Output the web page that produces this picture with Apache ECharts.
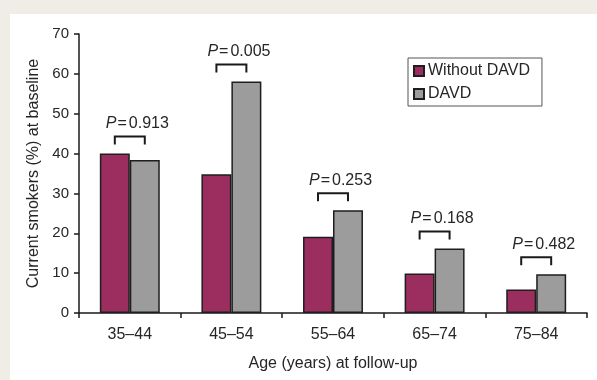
<!DOCTYPE html>
<html>
<head>
<meta charset="utf-8">
<script src="https://cdn.jsdelivr.net/npm/echarts@6/dist/echarts.min.js"></script>
<style>
  html, body { margin: 0; padding: 0; background: #efede5; }
  #chart { width: 597px; height: 380px; }
</style>
</head>
<body>
<div id="chart"></div>
<script>
// Age bands at follow-up
const categories = ['35–44', '45–54', '55–64', '65–74', '75–84'];
// Current smokers (%) at baseline
const withoutDavd = [40.0, 34.8, 19.1, 9.9, 5.9];
const davd = [38.4, 58.1, 25.8, 16.2, 9.7];
// P values comparing the two groups in each band
const pValues = ['0.913', '0.005', '0.253', '0.168', '0.482'];
const yTicks = { min: 0, max: 70, interval: 10 };

const FONT = '"Liberation Sans", Arial, Helvetica, sans-serif';
const TEXT = '#262626';
const CAT_GAP = 0.41; // fraction of each band left empty

const chart = echarts.init(document.getElementById('chart'));

chart.setOption({
  backgroundColor: '#efede5',
  animation: false,
  textStyle: { fontFamily: FONT, color: TEXT },
  graphic: [{
    type: 'rect', z: -10, silent: true,
    shape: { x: 10, y: 14, width: 600, height: 380 },
    style: { fill: '#ffffff' }
  }],
  grid: { left: 79, right: 10, top: 34, bottom: 67, containLabel: false },
  legend: {
    orient: 'vertical',
    left: 408, top: 58,
    width: 132,
    padding: [5, 12, 4, 5],
    itemWidth: 10, itemHeight: 10, itemGap: 7,
    backgroundColor: '#ffffff',
    borderColor: '#555555', borderWidth: 1,
    icon: 'rect',
    textStyle: { fontFamily: FONT, fontSize: 16, color: TEXT, padding: [0, 0, 0, -1] },
    data: ['Without DAVD', 'DAVD']
  },
  xAxis: {
    type: 'category',
    data: categories,
    name: 'Age (years) at follow-up',
    nameLocation: 'middle',
    nameGap: 43,
    nameTextStyle: { fontFamily: FONT, fontSize: 16, color: TEXT },
    axisLine: { lineStyle: { color: '#1a1a1a', width: 1.5 } },
    axisTick: { show: true, length: 5, alignWithLabel: false, lineStyle: { color: '#1a1a1a', width: 1.5 } },
    axisLabel: { fontFamily: FONT, fontSize: 16, color: TEXT, margin: 14 }
  },
  yAxis: {
    type: 'value',
    min: yTicks.min, max: yTicks.max, interval: yTicks.interval,
    name: 'Current smokers (%) at baseline',
    nameLocation: 'middle',
    nameRotate: 90,
    nameGap: 37,
    nameTextStyle: { fontFamily: FONT, fontSize: 16, color: TEXT },
    axisLine: { show: true, lineStyle: { color: '#1a1a1a', width: 1.5 } },
    axisTick: { show: true, length: 5, lineStyle: { color: '#1a1a1a', width: 1.5 } },
    axisLabel: { fontFamily: FONT, fontSize: 15, color: TEXT, margin: 10 },
    splitLine: { show: false }
  },
  series: [
    {
      name: 'Without DAVD',
      type: 'bar',
      data: withoutDavd,
      barGap: '0%',
      barCategoryGap: (CAT_GAP * 100) + '%',
      itemStyle: { color: '#9b2d5f', borderColor: '#1e1e1e', borderWidth: 1.5 }
    },
    {
      name: 'DAVD',
      type: 'bar',
      data: davd,
      barGap: '0%',
      barCategoryGap: (CAT_GAP * 100) + '%',
      itemStyle: { color: '#9c9c9c', borderColor: '#1e1e1e', borderWidth: 1.5 }
    },
    {
      // significance brackets with P-value labels above each pair
      type: 'custom',
      silent: true,
      z: 5,
      data: categories.map((c, i) => [i, Math.max(withoutDavd[i], davd[i])]),
      renderItem: function (params, api) {
        const idx = api.value(0);
        const top = api.coord([idx, api.value(1)]);
        const band = api.size([1, 0])[0];
        const barW = band * (1 - CAT_GAP) / 2;
        const cx = top[0];
        const x1 = cx - barW / 2;
        const x2 = cx + barW / 2;
        const yLeg = top[1] - 9;
        const yBar = yLeg - 8;
        return {
          type: 'group',
          children: [
            {
              type: 'polyline',
              shape: { points: [[x1, yLeg], [x1, yBar], [x2, yBar], [x2, yLeg]] },
              style: { stroke: '#1a1a1a', lineWidth: 2, fill: null }
            },
            {
              type: 'text',
              x: x1 - 9,
              y: yBar - 13,
              style: {
                text: '{i|P}{e|=}{n|' + pValues[idx] + '}',
                verticalAlign: 'middle',
                align: 'left',
                rich: {
                  i: { fontFamily: FONT, fontSize: 16, fontStyle: 'italic', fill: TEXT, padding: [0, 1, 0, 0] },
                  e: { fontFamily: FONT, fontSize: 16, fill: TEXT, padding: [0, 2, 0, 0] },
                  n: { fontFamily: FONT, fontSize: 16, fill: TEXT }
                }
              }
            }
          ]
        };
      }
    }
  ]
});
</script>
</body>
</html>
